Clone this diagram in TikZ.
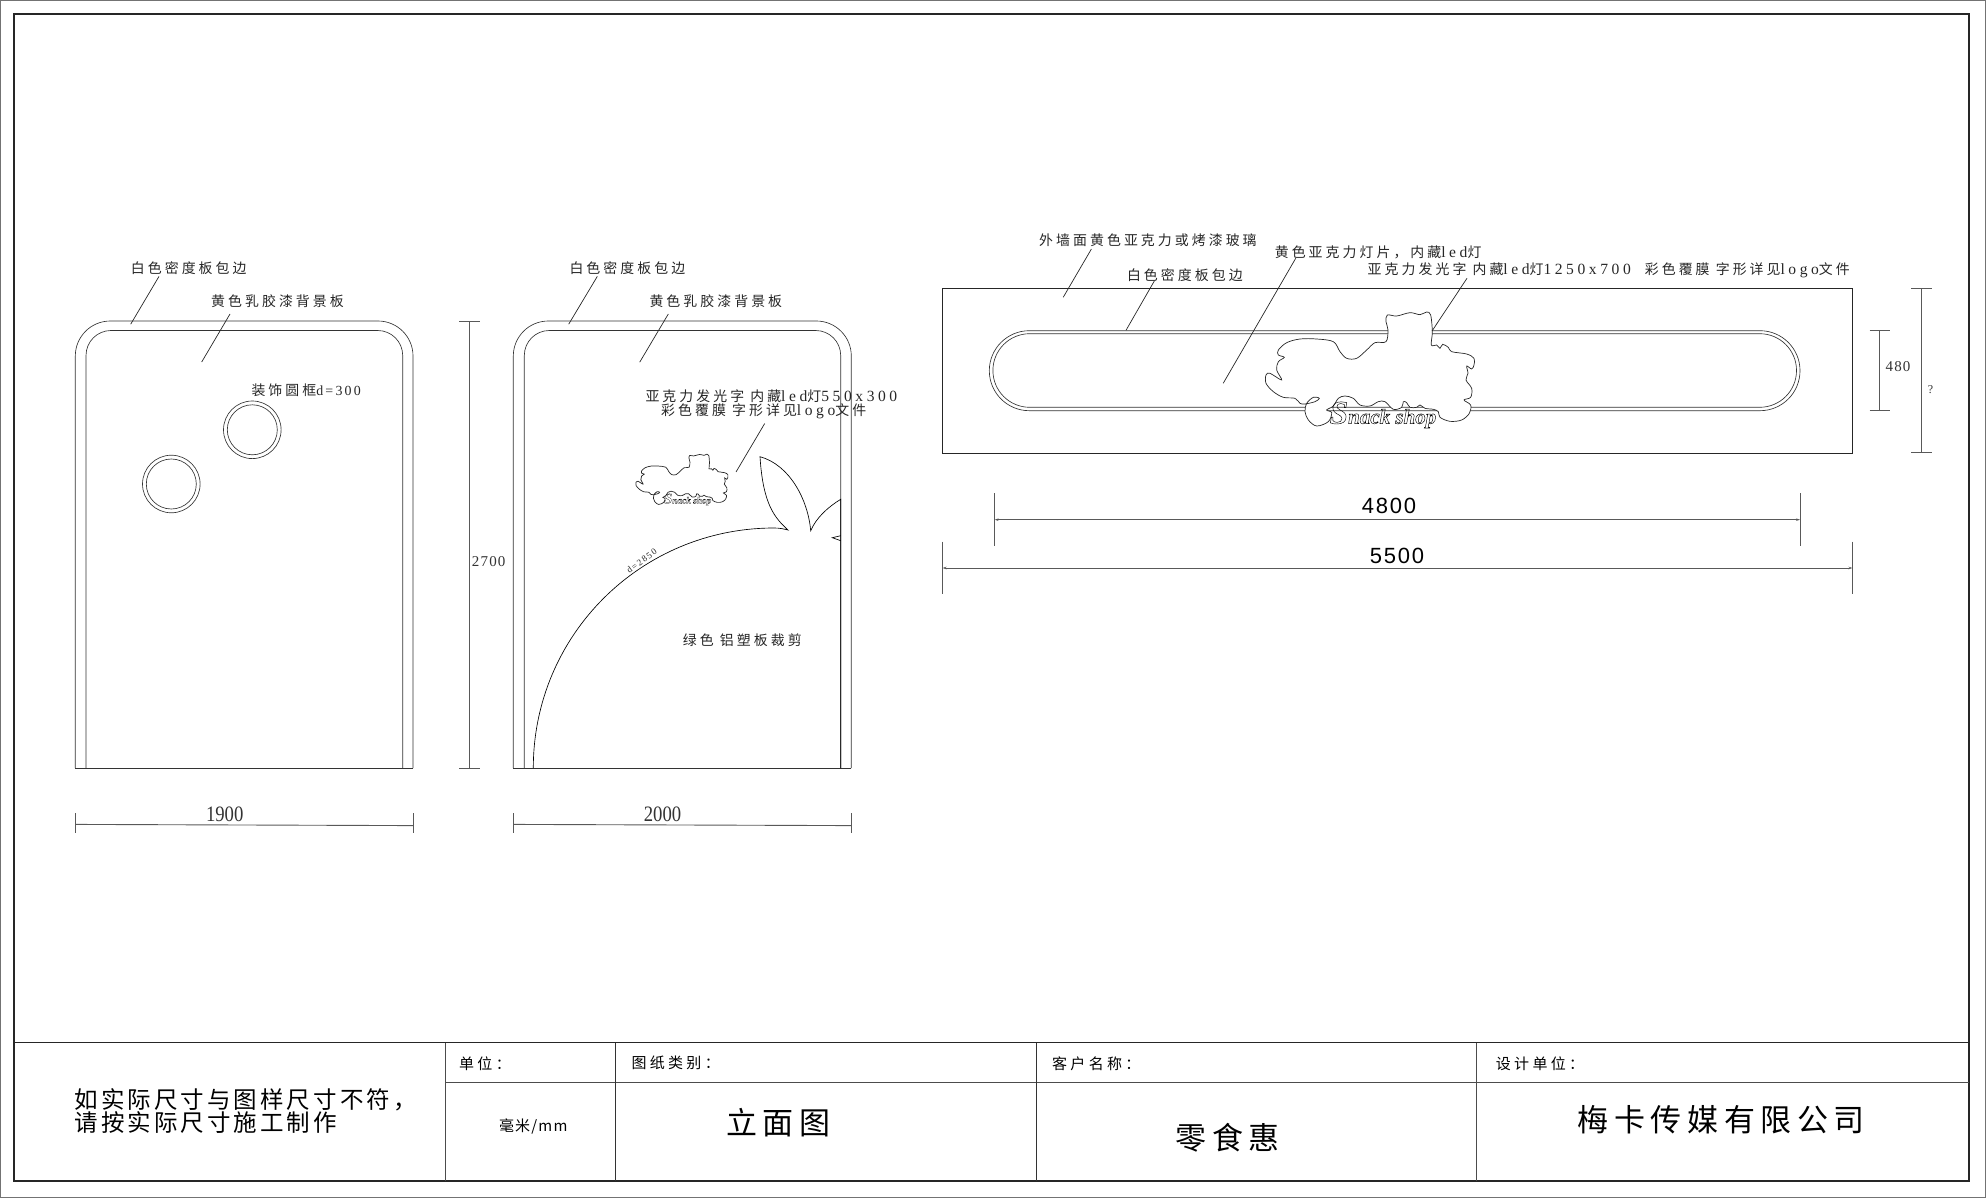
\documentclass[tikz,border=0pt]{standalone}
\usepackage{fontspec}
\setmainfont{Liberation Serif}
\newfontfamily\cjk[LetterSpace=22]{Noto Sans CJK SC}
\newfontfamily\cjkplain{Noto Sans CJK SC}
\newfontfamily\latf[LetterSpace=16]{Liberation Serif}
\newfontfamily\latw[LetterSpace=23,Scale=1.12]{Liberation Serif}
\newfontfamily\sidef[LetterSpace=8]{Liberation Serif}
\newfontfamily\dimf[LetterSpace=8]{Liberation Sans}
\newfontfamily\serifnum[FakeStretch=0.85]{Liberation Serif}
\newcommand{\lat}[1]{{\latw #1}}
\usetikzlibrary{arrows.meta}
\tikzset{
  lbl/.style = {anchor=west, inner sep=0pt, text=black!85,
    font=\fontsize{13.9}{13.9}\selectfont\cjk},
  tiny/.style = {anchor=west, inner sep=0pt,
    font=\fontsize{15}{15}\selectfont\cjkplain\addfontfeatures{LetterSpace=22}},
  big/.style = {anchor=west, inner sep=0pt,
    font=\fontsize{31}{31}\selectfont\cjkplain\addfontfeatures{LetterSpace=18}},
  note/.style = {anchor=west, inner sep=0pt,
    font=\fontsize{23.5}{23.5}\selectfont\cjkplain\addfontfeatures{LetterSpace=13}},
  num/.style = {inner sep=0pt, text=black!80, font=\fontsize{22}{22}\selectfont\serifnum},
  sidenum/.style = {inner sep=0pt, text=black!80, font=\fontsize{15}{15}\selectfont\sidef},
  widenum/.style = {inner sep=0pt, font=\fontsize{22}{22}\selectfont\dimf},
  thin line/.style = {line width=.65pt, draw=black!80},
  frame line/.style = {line width=1.1pt, draw=black!85},
  grid line/.style = {line width=.9pt, draw=black!70},
  leader/.style = {line width=.7pt, draw=black!85},
  dim/.style = {line width=.9pt, draw=black!65},
  dimarrow/.style = {dim, {Stealth[length=4pt,width=2.5pt]}-{Stealth[length=4pt,width=2.5pt]}},
  snacklogo/.pic = {
    \draw[line width=.7pt, draw=black!85, fill=white, x=.3333pt, y=-.3333pt, shift={(-360,-237)}]
      plot[smooth cycle, tension=.55] coordinates {
        (408,155) (414,120) (408,95) (412,75) (440,78) (480,68) (510,74) (530,66) (542,75)
        (547,125) (544,165) (560,165) (570,175) (578,163) (595,172) (605,185) (650,192)
        (672,205) (672,225) (665,237) (650,228) (654,250) (648,270) (665,295) (662,322)
        (642,330) (662,345) (658,370) (635,390) (600,394) (570,382) (565,365) (550,358)
        (525,355) (510,345) (500,352) (480,352) (470,338) (460,335) (455,352) (430,358)
        (405,335) (385,335) (360,348) (330,345) (310,325) (285,318) (265,325) (250,348)
        (230,360) (245,368) (235,395) (200,408) (175,390) (165,365) (170,340) (190,322)
        (208,325) (195,335) (165,342) (150,340) (135,325) (100,322) (70,305) (48,280)
        (48,255) (60,250) (95,270) (80,240) (85,215) (103,202) (85,195) (85,180) (110,158)
        (150,147) (200,147) (250,155) (270,185) (290,205) (320,205) (350,180) (375,158)};
    \node[transform shape, inner sep=0pt] (word) at (13,46) {\special{pdf:code 1 Tr 0.45 w}%
      \fontsize{21}{21}\selectfont\bfseries\itshape{\fontsize{33}{33}\selectfont S}nack shop%
      \special{pdf:code 0 Tr}};
  }
}
\begin{document}
\begin{tikzpicture}[x=1pt, y=-1pt]
  \useasboundingbox (0,0) rectangle (1986,1198);
  % sheet and title block
  \draw[line width=1pt, draw=black!55] (.5,.5) rectangle (1985.5,1197.5);
  \draw[frame line] (14,14) rectangle (1969,1181);
  \draw[frame line] (14,1042.7) -- (1969,1042.7);
  \draw[grid line] (445.7,1082) -- (1969,1082);
  \draw[grid line] (445.7,1042.7) -- (445.7,1181);
  \draw[thin line] (615.5,1042.7) -- (615.5,1181);
  \draw[thin line] (1036.6,1042.7) -- (1036.6,1181);
  \draw[grid line] (1476.6,1042.7) -- (1476.6,1181);
  \node[note] (warn1) at (74.3,1100) {如实际尺寸与图样尺寸不符，};
  \node[note] (warn2) at (74.3,1123) {请按实际尺寸施工制作};
  \node[tiny] (unit) at (459,1063.3) {单位：};
  \node[tiny] (kind) at (631.4,1063.3) {图纸类别：};
  \node[tiny] (client) at (1052,1063.3) {客户名称：};
  \node[tiny] (maker) at (1495.7,1063.3) {设计单位：};
  \node[tiny, font=\fontsize{15}{15}\selectfont\cjkplain\addfontfeatures{LetterSpace=8}] (mm) at (498.8,1126) {毫米/mm};
  \node[big] (elev) at (726,1123) {立面图};
  \node[big] (shop) at (1175.3,1137.3) {零食惠};
  \node[big] (firm) at (1577.6,1120) {梅卡传媒有限公司};

  % left panel
  \draw[thin line, rounded corners=35pt] (75.3,768) -- (75.3,321) -- (413,321) -- (413,768);
  \draw[thin line, rounded corners=25pt] (86,768) -- (86,330.5) -- (402.7,330.5) -- (402.7,768);
  \draw[thin line] (75.3,768) -- (413,768);
  \draw[thin line] (252.3,429.8) circle (28.8);
  \draw[thin line] (252.3,429.8) circle (25);
  \draw[thin line] (171.3,484) circle (28.8);
  \draw[thin line] (171.3,484) circle (25);
  \node[lbl] (edgeA) at (130.7,267.7) {白色密度板包边};
  \node[lbl] (backA) at (211,301.3) {黄色乳胶漆背景板};
  \node[lbl] (ring) at (251.3,390.7) {装饰圆框{\latf d=300}};
  \coordinate (edgeAa) at (159,276.4); \coordinate (edgeAb) at (130.7,324.2);
  \coordinate (backAa) at (230,314); \coordinate (backAb) at (201.7,362);
  \path[leader] (edgeAa) edge (edgeAb) (backAa) edge (backAb);
  \draw[dim] (75.3,824.4) -- (413,825.6);
  \draw[dim] (75.3,813.4) -- (75.3,833);
  \draw[dim] (413,813.4) -- (413,833);
  \node[num] (w1900) at (224.7,814.5) {1900};
  \draw[dim] (469.3,321) -- (469.3,768);
  \draw[dim] (459,321) -- (479.7,321);
  \draw[dim] (459,768) -- (479.7,768);
  \node[sidenum, anchor=west] (h2700) at (471.7,561.5) {2700};

  % middle panel
  \draw[thin line, rounded corners=35pt] (513.3,768) -- (513.3,321) -- (851.3,321) -- (851.3,768);
  \draw[thin line, rounded corners=25pt] (524.3,768) -- (524.3,330.5) -- (840.7,330.5) -- (840.7,768);
  \draw[thin line] (513.3,768) -- (851.3,768);
  \draw[thin line, draw=black] (533.3,768) .. controls (533.3,635) and (641,528) .. (774,528)
    .. controls (780,528) and (784,529) .. (788,530)
    .. controls (775,518) and (763,505) .. (760,456.7)
    .. controls (790,465) and (808,500) .. (810.7,530.7)
    .. controls (816,518) and (828,507) .. (840.7,499.3) -- (840.7,768);
  \draw[thin line, draw=black] (840.7,535.7) -- (832.3,537.7) -- (840.7,540.7);
  \pic at (682,479.3) [scale=.441] {snacklogo};
  \node[lbl] (edgeB) at (569.3,267.7) {白色密度板包边};
  \node[lbl] (backB) at (649.3,301.3) {黄色乳胶漆背景板};
  \node[lbl] (glowB1) at (645.3,396.6) {亚克力发光字 内藏\lat{led}灯\lat{550x300}};
  \node[lbl] (glowB2) at (661,411.6) {彩色覆膜 字形详见\lat{logo}文件};
  \node[lbl] (green) at (682.7,640) {绿色 铝塑板裁剪};
  \node[inner sep=0pt, rotate=36, text=black!85, font=\fontsize{9}{9}\selectfont\latf] (arcd) at (641.7,561) {d=2850};
  \coordinate (edgeBa) at (597.3,276.4); \coordinate (edgeBb) at (568.7,324.2);
  \coordinate (backBa) at (668.3,314); \coordinate (backBb) at (639.7,362.2);
  \coordinate (glowBa) at (764.7,423.5); \coordinate (glowBb) at (736,472);
  \path[leader] (edgeBa) edge (edgeBb) (backBa) edge (backBb) (glowBa) edge (glowBb);
  \draw[dim] (513.3,824.4) -- (851.3,825.6);
  \draw[dim] (513.3,813.4) -- (513.3,833);
  \draw[dim] (851.3,813.4) -- (851.3,833);
  \node[num] (w2000) at (662.5,814.5) {2000};

  % wall strip
  \draw[frame line] (942.5,288.3) rectangle (1852.5,453.7);
  \draw[thin line, rounded corners=40pt] (989.3,330.7) rectangle (1800,410.7);
  \draw[thin line, rounded corners=36.8pt] (992.9,333.7) rectangle (1796.5,407.3);
  \pic at (1370,369) {snacklogo};
  \node[lbl] (wall) at (1039,240) {外墙面黄色亚克力或烤漆玻璃};
  \node[lbl] (edgeC) at (1126.8,275) {白色密度板包边};
  \node[lbl] (lamp) at (1274.6,252.3) {黄色亚克力灯片，内藏\lat{led}灯};
  \node[lbl] (glowC) at (1367.5,270) {亚克力发光字 内藏\lat{led}灯\lat{1250x700}\hspace{14pt}彩色覆膜 字形详见\lat{logo}文件};
  \coordinate (walla) at (1091.4,249); \coordinate (wallb) at (1063.2,297.3);
  \coordinate (edgeCa) at (1154.3,281); \coordinate (edgeCb) at (1126,330.3);
  \coordinate (lampa) at (1295.7,258.3); \coordinate (lampb) at (1223.2,383.3);
  \coordinate (glowCa) at (1467,278.3); \coordinate (glowCb) at (1432,331);
  \path[leader] (walla) edge (wallb) (edgeCa) edge (edgeCb) (lampa) edge (lampb) (glowCa) edge (glowCb);
  \draw[dim] (1879.6,330.7) -- (1879.6,410.3);
  \draw[dim] (1869.5,330.7) -- (1890,330.7);
  \draw[dim] (1869.5,410.3) -- (1890,410.3);
  \node[sidenum] (h480) at (1898,366.7) {480};
  \draw[dim] (1921.4,288.3) -- (1921.4,452.3);
  \draw[dim] (1911,288.3) -- (1931.6,288.3);
  \draw[dim] (1911,452.3) -- (1931.6,452.3);
  \node[inner sep=0pt, text=black!80, font=\fontsize{12}{12}\selectfont] (hq) at (1930.5,389.3) {?};
  \draw[dimarrow] (994.6,519.7) -- (1800,519.7);
  \draw[dim] (994.6,493.3) -- (994.6,546);
  \draw[dim] (1800,493.3) -- (1800,546);
  \node[widenum] (w4800) at (1389,505.7) {4800};
  \draw[dimarrow] (942.5,568) -- (1852.5,568);
  \draw[dim] (942.5,541.7) -- (942.5,594);
  \draw[dim] (1852.5,541.7) -- (1852.5,594);
  \node[widenum] (w5500) at (1397,556) {5500};
\end{tikzpicture}
\end{document}
